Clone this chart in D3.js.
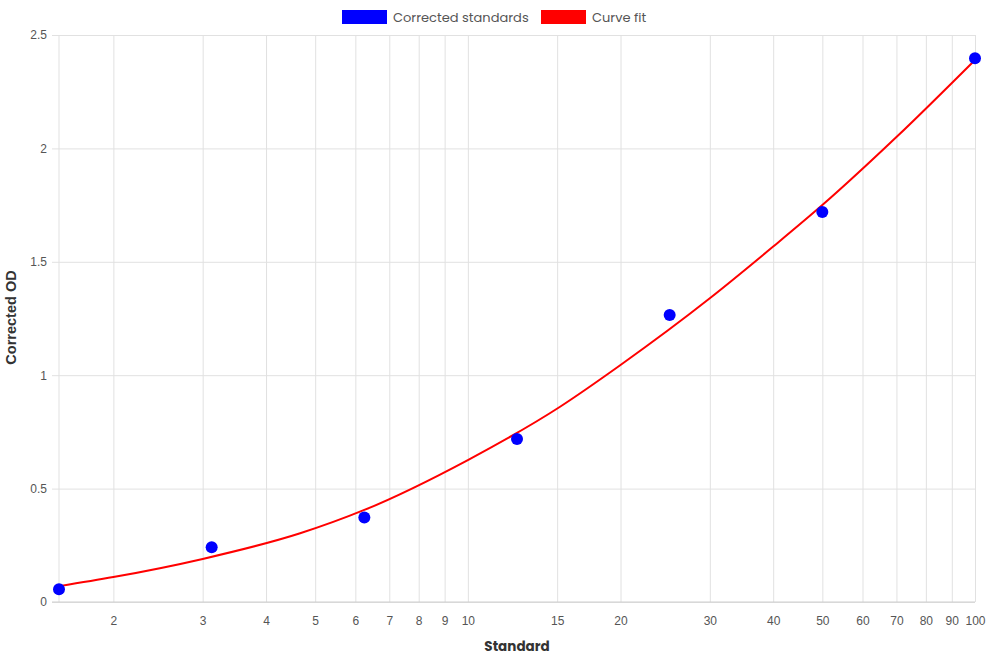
<!DOCTYPE html>
<html>
<head>
<meta charset="utf-8">
<script src="https://cdn.jsdelivr.net/npm/d3@7"></script>
<style>
  body { margin: 0; background: #fff; }
  svg { display: block; }
</style>
</head>
<body>
<script>
// standards (x) and their corrected OD readings
const standards = [1.5625, 3.125, 6.25, 12.5, 25, 50, 100];
const correctedOD = [0.056, 0.241, 0.373, 0.719, 1.265, 1.72, 2.397];

// curve fit at a few x positions
const fitX = [1.5625, 2, 3, 4.67, 6.25, 10, 15.2, 20, 30, 40, 50, 70, 100];
const fitY = [0.07, 0.11, 0.19, 0.303, 0.406, 0.626, 0.861, 1.045, 1.339, 1.567, 1.75, 2.05, 2.39];

const xTicks = [2, 3, 4, 5, 6, 7, 8, 9, 10, 15, 20, 30, 40, 50, 60, 70, 80, 90, 100];
const yTicks = [0, 0.5, 1, 1.5, 2, 2.5];

const W = 990, H = 660;
const m = { top: 35, right: 15, bottom: 58, left: 59 };

const svg = d3.select("body").append("svg")
    .attr("width", W)
    .attr("height", H);

const x = d3.scaleLog()
    .domain([1.5625, 100])
    .range([m.left, W - m.right]);
const y = d3.scaleLinear()
    .domain([0, 2.5])
    .range([H - m.bottom, m.top]);

const gridColor = "#e1e1e1";
const tickFont = "'Liberation Sans', Arial, sans-serif";
const titleFont = "Poppins, Lato, 'Open Sans', sans-serif";

// horizontal grid + y axis
const yAxis = svg.append("g")
    .attr("transform", `translate(${m.left},0)`)
    .call(d3.axisLeft(y).tickValues(yTicks).tickSize(7).tickPadding(5)
        .tickFormat(d => d));
yAxis.select(".domain").remove();
yAxis.selectAll(".tick line").attr("stroke", gridColor)
    .attr("x2", W - m.right - m.left).attr("x1", -7);
yAxis.selectAll("text")
    .attr("font-family", tickFont).attr("font-size", 12).attr("fill", "#555");

// vertical grid + x axis
const xAxis = svg.append("g")
    .attr("transform", `translate(0,${H - m.bottom})`)
    .call(d3.axisBottom(x).tickValues(xTicks).tickSize(0).tickPadding(14)
        .tickFormat(d => d));
xAxis.select(".domain").remove();
xAxis.selectAll(".tick line").attr("stroke", gridColor)
    .attr("y1", 0).attr("y2", -(H - m.bottom - m.top));
xAxis.selectAll("text")
    .attr("font-family", tickFont).attr("font-size", 12).attr("fill", "#555");

// left edge line (at axis min) and bottom axis line
svg.append("line")
    .attr("x1", x(1.5625)).attr("x2", x(1.5625))
    .attr("y1", m.top).attr("y2", H - m.bottom)
    .attr("stroke", gridColor);
svg.append("line")
    .attr("x1", m.left - 7).attr("x2", W - m.right)
    .attr("y1", y(0)).attr("y2", y(0))
    .attr("stroke", "#cfcfcf");

// axis titles
svg.append("text")
    .attr("x", (m.left + W - m.right) / 2)
    .attr("y", 651)
    .attr("text-anchor", "middle")
    .attr("font-family", titleFont)
    .attr("font-weight", "bold")
    .attr("font-size", 13.5)
    .attr("fill", "#333")
    .text("Standard");

svg.append("text")
    .attr("transform", `translate(15.5,317.5) rotate(-90)`)
    .attr("text-anchor", "middle")
    .attr("font-family", tickFont)
    .attr("font-weight", "bold")
    .attr("font-size", 14.5)
    .attr("fill", "#333")
    .text("Corrected OD");

// curve fit
const fit = fitX.map((d, i) => [d, fitY[i]]);
svg.append("path")
    .datum(fit)
    .attr("fill", "none")
    .attr("stroke", "red")
    .attr("stroke-width", 2)
    .attr("d", d3.line()
        .x(d => x(d[0]))
        .y(d => y(d[1]))
        .curve(d3.curveMonotoneX));

// standards
svg.selectAll("circle.std")
    .data(standards)
    .enter()
    .append("circle")
    .attr("class", "std")
    .attr("cx", d => x(d))
    .attr("cy", (d, i) => y(correctedOD[i]))
    .attr("r", 6)
    .attr("fill", "blue");

// legend
const legend = [
    { label: "Corrected standards", color: "blue", x: 342 },
    { label: "Curve fit", color: "red", x: 541 }
];
const lg = svg.append("g");
lg.selectAll("rect")
    .data(legend)
    .enter()
    .append("rect")
    .attr("x", d => d.x)
    .attr("y", 10)
    .attr("width", 45)
    .attr("height", 14)
    .attr("fill", d => d.color);
lg.selectAll("text")
    .data(legend)
    .enter()
    .append("text")
    .attr("x", d => d.x + 51)
    .attr("y", 21.5)
    .attr("font-family", titleFont)
    .attr("font-size", 13)
    .attr("fill", "#555")
    .text(d => d.label);
</script>
</body>
</html>
